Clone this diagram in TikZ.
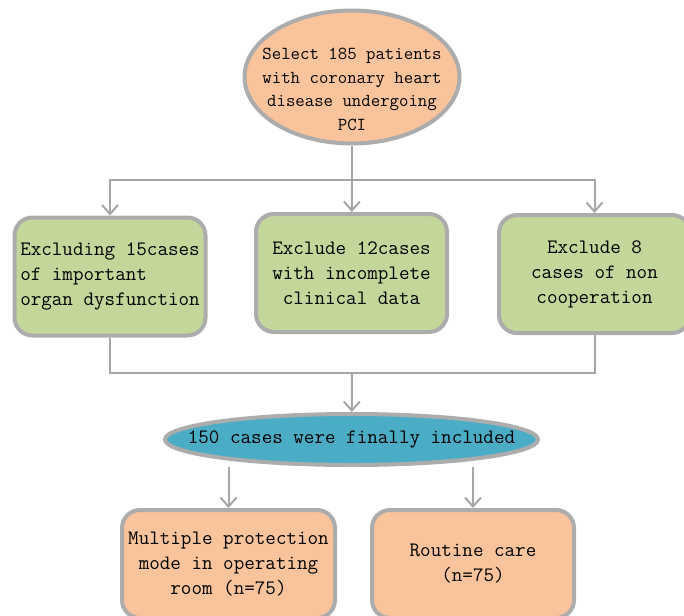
\documentclass[tikz,border=0pt]{standalone}
\usepackage{fontspec}
\usetikzlibrary{shapes.geometric,arrows.meta}

\definecolor{peach}{HTML}{F9C39B}
\definecolor{sage}{HTML}{C4D79B}
\definecolor{aquablue}{HTML}{4BACC6}
\definecolor{rimgray}{HTML}{ACACAC}
\definecolor{linegray}{HTML}{A6A6A6}

\tikzset{
	txt/.style={font=\ttfamily\fontsize{20.5}{25}\selectfont},
	oval/.style={txt, ellipse, draw=rimgray, line width=4pt, align=center,
		inner ysep=0pt},
	card/.style={txt, rectangle, rounded corners=18pt, draw=rimgray,
		line width=4pt, align=center, inner sep=0pt},
	exbox/.style={card, fill=sage, minimum width=191pt, minimum height=118pt},
	grpbox/.style={card, fill=peach, minimum height=108pt},
	link/.style={draw=linegray, line width=2pt},
	arrow/.style={link, -{Straight Barb[length=9pt,width=16pt]}}
}

\begin{document}
\begin{tikzpicture}[x=1pt, y=-1pt]
	\useasboundingbox (0,0) rectangle (684,615);
	% Ausgangsgruppe
	\node[oval, fill=peach, minimum width=215pt, minimum height=133pt,
		font=\ttfamily\fontsize{18.3}{23.5}\selectfont,
		inner xsep=-17pt, inner ysep=-9pt] (select) at (352,77)
		{\rule{0pt}{36pt}Select 185 patients\\with coronary heart\\disease undergoing\\PCI};
	% Ausschluesse
	\node[exbox, align=left] (excl1) at (110,276.5)
		{Excluding 15cases\\of important\\organ dysfunction};
	\node[exbox] (excl2) at (351.5,273)
		{Exclude 12cases\\with incomplete\\clinical data};
	\node[exbox] (excl3) at (594.5,274)
		{Exclude 8\\cases of non\\cooperation};
	% Einschluss
	\node[oval, fill=aquablue, minimum width=373pt, minimum height=51pt,
		inner xsep=-38pt] (incl) at (351.5,439.5)
		{150 cases were finally included};
	% Gruppen
	\node[grpbox, minimum width=213pt] (grp1) at (228.5,564)
		{Multiple protection\\mode in operating\\room (n=75)};
	\node[grpbox, minimum width=202pt] (grp2) at (473,564)
		{Routine care\\(n=75)};
	% Verbindungen
	\coordinate (topjoin) at (352,180);
	\coordinate (botjoin) at (352,373);
	\draw[link] (select) -- (topjoin);
	\draw[arrow] (topjoin) -| (excl1);
	\draw[arrow] (topjoin) -- (excl2);
	\draw[arrow] (topjoin) -| (excl3);
	\draw[link] (excl1) |- (botjoin);
	\draw[link] (excl3) |- (botjoin);
	\draw[arrow] (botjoin) -- (incl);
	\draw[arrow] (incl.south -| grp1.north) -- (grp1);
	\draw[arrow] (incl.south -| grp2.north) -- (grp2);
\end{tikzpicture}
\end{document}
